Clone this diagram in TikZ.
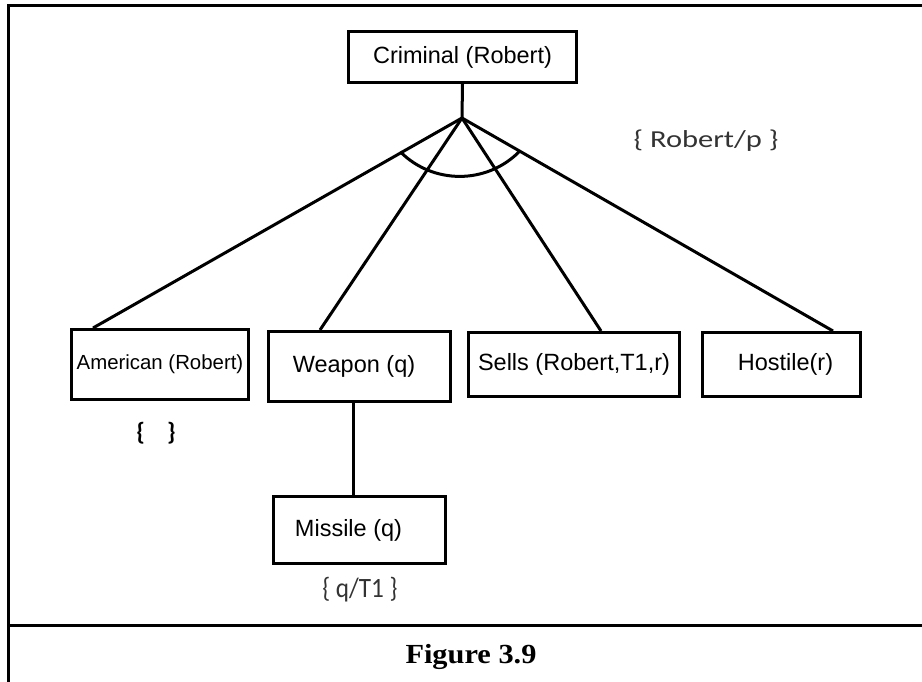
\documentclass[tikz,border=0pt]{standalone}
\usepackage{fontspec}
\setmainfont{Liberation Sans}
\newfontfamily\bracefont{Carlito}
\newfontfamily\capfont{Liberation Serif}
\usetikzlibrary{calc}

\begin{document}
\begin{tikzpicture}[x=1pt,y=-1pt,
  pbox/.style={draw, line width=3pt, inner sep=0pt,
    font=\fontsize{23.5}{28}\selectfont},
  link/.style={line width=3pt},
  frameline/.style={line width=3pt},
  subst/.style={inner sep=0pt, text=black!80}]
\useasboundingbox (0,0) rectangle (922,682);

% outer frame and caption divider
\draw[frameline] (922,5.3) -- (8.7,5.3) -- (8.7,682);
\draw[frameline] (8.7,625.3) -- (922,625.3);

% goal and subgoals
\node[pbox, minimum width=228pt, minimum height=51pt] (crim) at (462.5,57) {Criminal (Robert)};
\node[pbox, minimum width=177pt, minimum height=70pt,
      font=\fontsize{20.4}{24}\selectfont] (amer) at (160,364.5) {American (Robert)};
\node[pbox, minimum width=182pt, minimum height=70pt] (weap) at (359.5,366.5) {Weapon (q)\hspace*{11pt}};
\node[pbox, minimum width=211pt, minimum height=64pt] (sell) at (574,364.5) {Sells (Robert,T1,r)};
\node[pbox, minimum width=158pt, minimum height=64pt] (host) at (781.5,364.5) {\hspace*{8pt}Hostile(r)};
\node[pbox, minimum width=172pt, minimum height=67pt] (miss) at (359.5,530) {Missile (q)\hspace*{22pt}};

% AND branch point
\coordinate (apex) at (462,118);
\draw[link] (crim.south) -- (apex);
\draw[link, line join=round] (apex) -- ([xshift=-67pt]amer.north);
\draw[link, line join=round] (apex) -- ([xshift=-39.5pt]weap.north);
\draw[link, line join=round] (apex) -- ([xshift=27pt]sell.north);
\draw[link, line join=round] (apex) -- ([xshift=51.5pt]host.north);
\draw[link] (400.3,151.8) arc[start angle=135, end angle=45, radius=84];

\draw[link] ([xshift=-6.5pt]weap.south) -- ([xshift=-6.5pt]miss.north);

% substitutions
\node[subst, font=\bracefont\fontsize{24.4}{28}\selectfont, xscale=1.25] (s1) at (706,141) {\{ Robert/p \}};
\node[subst, text=black, font=\bracefont\bfseries\fontsize{25}{28}\selectfont] (s2) at (156,433) {\{\hspace{22pt}\}};
\node[subst, font=\bracefont\fontsize{28}{32}\selectfont, xscale=0.9] (s3) at (360,590) {\{ q/T1 \}};

% caption
\node[inner sep=0pt, anchor=base, font=\capfont\bfseries\fontsize{27.6}{32}\selectfont, xscale=1.1] (cap) at (471,663) {Figure 3.9};
\end{tikzpicture}
\end{document}
